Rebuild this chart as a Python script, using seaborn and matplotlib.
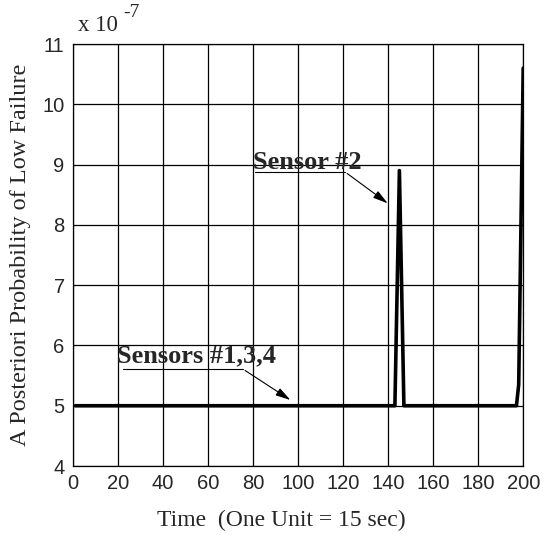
import numpy as np
import pandas as pd
import seaborn as sns
import matplotlib.pyplot as plt

# breakpoints of the posterior probability trace (units of 1e-7)
time = [1, 143, 145, 147, 197, 198, 200]
prob = [5.0, 5.0, 8.9, 5.0, 5.0, 5.35, 10.6]
x_ticks = list(range(0, 201, 20))
y_ticks = list(range(4, 12))

df = pd.DataFrame({"time": time, "prob": prob})

sns.set_style("white")
plt.rcParams['font.family'] = ['Liberation Sans', 'DejaVu Sans']
serif = 'Liberation Serif'

fig = plt.figure(figsize=(5.45, 5.4), dpi=100)
ax = fig.add_axes([0.134, 0.137, 0.826, 0.7815])

sns.lineplot(data=df, x="time", y="prob", ax=ax, color='black', lw=2.6, sort=False)

ax.set_xlim(0, 200)
ax.set_ylim(4, 11)
ax.set_xticks(x_ticks)
ax.set_yticks(y_ticks)
ax.grid(True, color='black', lw=0.9)
ax.tick_params(labelsize=14.5, length=0, pad=6)
for s in ax.spines.values():
    s.set_color('black')
    s.set_linewidth(0.9)

ax.set_xlabel("Time  (One Unit = 15 sec)", family=serif, fontsize=17, labelpad=12)
ax.xaxis.label.set_x(0.462)
ax.set_ylabel("A Posteriori Probability of Low Failure", family=serif, fontsize=17.5, labelpad=8)

ax.text(0.012, 1.03, "x 10", transform=ax.transAxes, family=serif, fontsize=16.5)
ax.text(0.112, 1.065, "-7", transform=ax.transAxes, family=serif, fontsize=14)

# annotations
ax.text(80, 9.03, "Sensor #2", family=serif, fontweight='bold', fontsize=19, va='center')
ax.plot([80.7, 120.8], [8.88, 8.88], color='black', lw=0.8)
ax.annotate("", xy=(140.8, 8.33), xytext=(120.8, 8.88),
            arrowprops=dict(arrowstyle='-|>,head_length=0.9,head_width=0.25', color='black', lw=0.8))

ax.text(19.4, 5.83, "Sensors #1,3,4", family=serif, fontweight='bold', fontsize=19, va='center')
ax.plot([22.1, 75.4], [5.61, 5.61], color='black', lw=0.8)
ax.annotate("", xy=(97.6, 5.07), xytext=(75.4, 5.61),
            arrowprops=dict(arrowstyle='-|>,head_length=0.9,head_width=0.25', color='black', lw=0.8))

fig.savefig("out.png", dpi=100)
